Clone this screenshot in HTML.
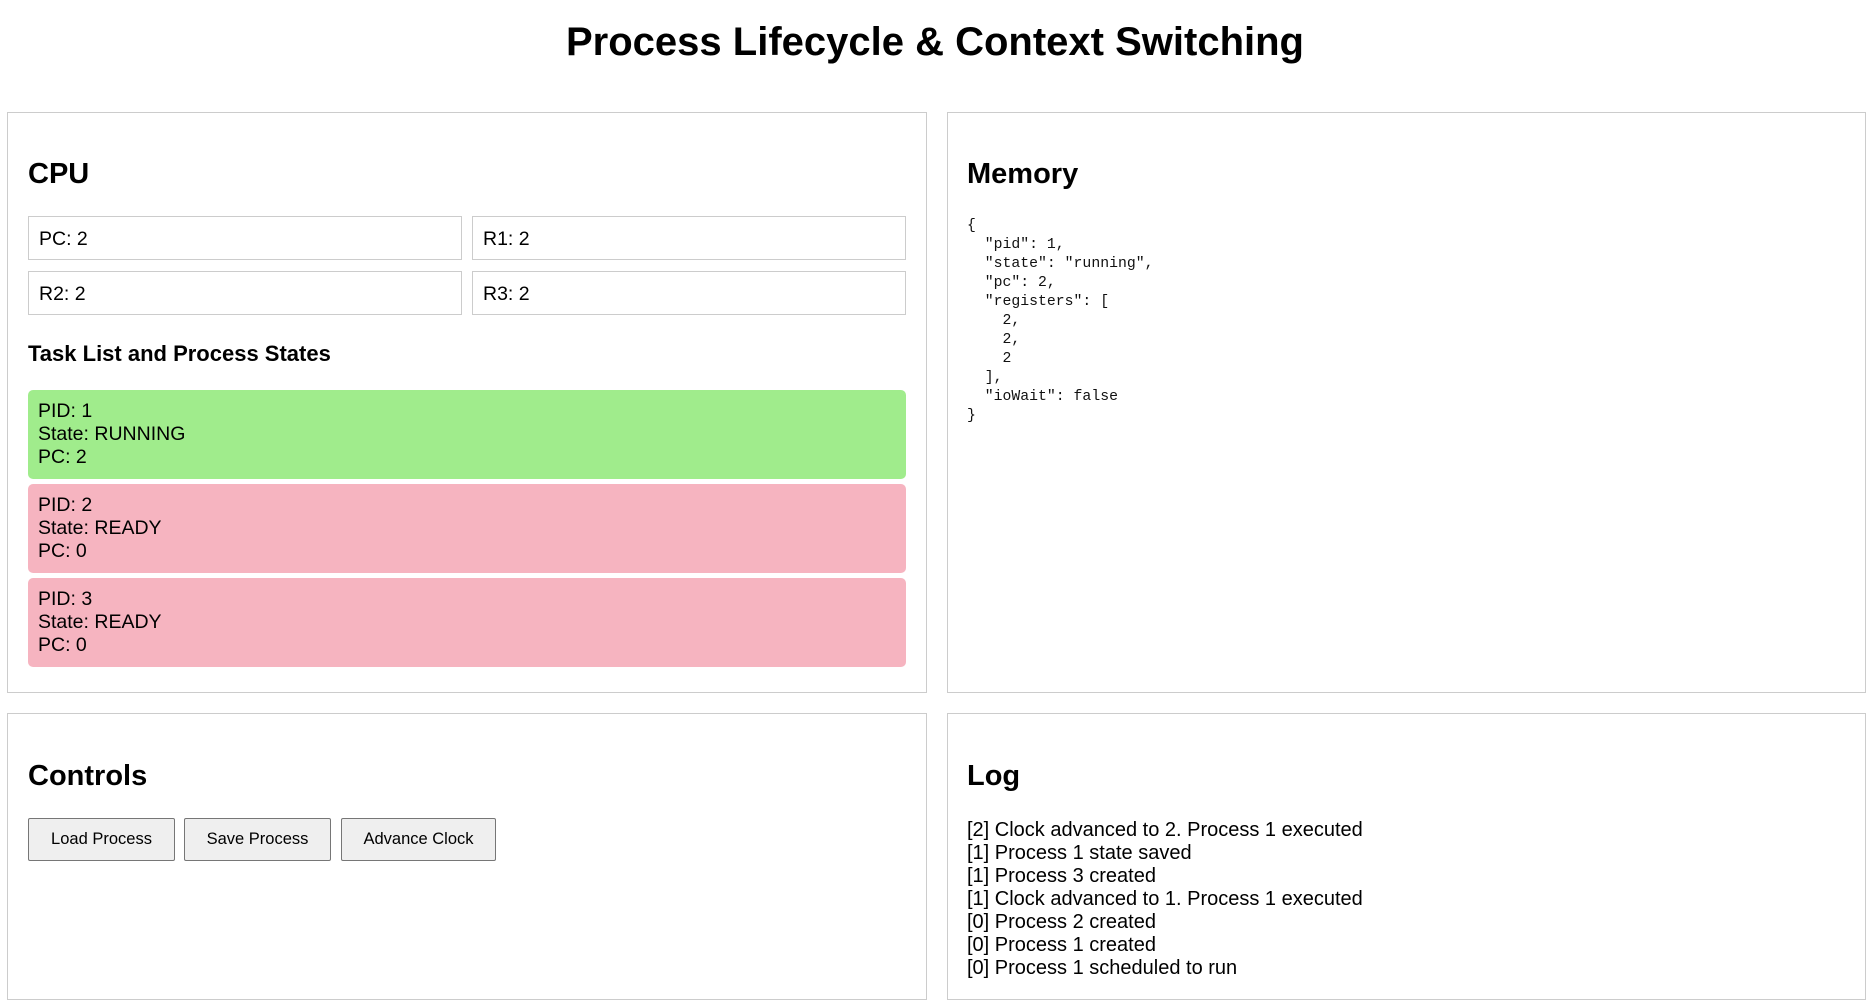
<!DOCTYPE html>
<html><head><meta charset="utf-8"><style>
*{box-sizing:border-box;margin:0;padding:0}
body{width:1870px;height:1002px;background:#fff;font-family:"Liberation Sans",Arial,sans-serif;color:#000;position:relative;overflow:hidden}
.a{position:absolute}
h1{position:absolute;left:0;width:1870px;top:18px;text-align:center;font-size:40px;font-weight:bold;line-height:48px}
.panel{position:absolute;border:1px solid #ccc;background:#fff}
h2{position:absolute;font-size:29px;font-weight:bold;line-height:34px}
.reg{position:absolute;border:1px solid #ccc;font-size:19.5px;line-height:44px;padding-left:10px;height:44px;width:434px}
.card{position:absolute;left:28px;width:878px;height:89px;border-radius:5px;padding:10px 10px;font-size:19.5px;line-height:23px}
pre{position:absolute;font-family:"Liberation Mono",monospace;font-size:14.8px;line-height:19px;color:#111}
.btn{position:absolute;top:818px;height:43px;background:#efefef;border:1px solid #767676;border-radius:2px;font-size:16.5px;line-height:41px;text-align:center}
.log{position:absolute;left:967px;top:819px;font-size:20px;line-height:23px}
</style></head><body>
<h1>Process Lifecycle &amp; Context Switching</h1>

<div class="panel" style="left:7px;top:112px;width:920px;height:581px"></div>
<h2 style="left:28px;top:157px">CPU</h2>
<div class="reg" style="left:28px;top:216px">PC: 2</div>
<div class="reg" style="left:472px;top:216px">R1: 2</div>
<div class="reg" style="left:28px;top:271px">R2: 2</div>
<div class="reg" style="left:472px;top:271px">R3: 2</div>
<div class="a" style="left:28px;top:341px;font-size:22px;font-weight:bold;line-height:26px">Task List and Process States</div>
<div class="card" style="top:390px;background:#a0ec8c">PID: 1<br>State: RUNNING<br>PC: 2</div>
<div class="card" style="top:484px;background:#f6b4c0">PID: 2<br>State: READY<br>PC: 0</div>
<div class="card" style="top:578px;background:#f6b4c0">PID: 3<br>State: READY<br>PC: 0</div>

<div class="panel" style="left:947px;top:112px;width:919px;height:581px"></div>
<h2 style="left:967px;top:157px">Memory</h2>
<pre style="left:967px;top:217px">{
  "pid": 1,
  "state": "running",
  "pc": 2,
  "registers": [
    2,
    2,
    2
  ],
  "ioWait": false
}</pre>

<div class="panel" style="left:7px;top:713px;width:920px;height:287px"></div>
<h2 style="left:28px;top:759px">Controls</h2>
<div class="btn" style="left:28px;width:147px">Load Process</div>
<div class="btn" style="left:184px;width:147px">Save Process</div>
<div class="btn" style="left:341px;width:155px">Advance Clock</div>

<div class="panel" style="left:947px;top:713px;width:919px;height:287px"></div>
<h2 style="left:967px;top:759px">Log</h2>
<div class="log">[2] Clock advanced to 2. Process 1 executed<br>[1] Process 1 state saved<br>[1] Process 3 created<br>[1] Clock advanced to 1. Process 1 executed<br>[0] Process 2 created<br>[0] Process 1 created<br>[0] Process 1 scheduled to run</div>
</body></html>
